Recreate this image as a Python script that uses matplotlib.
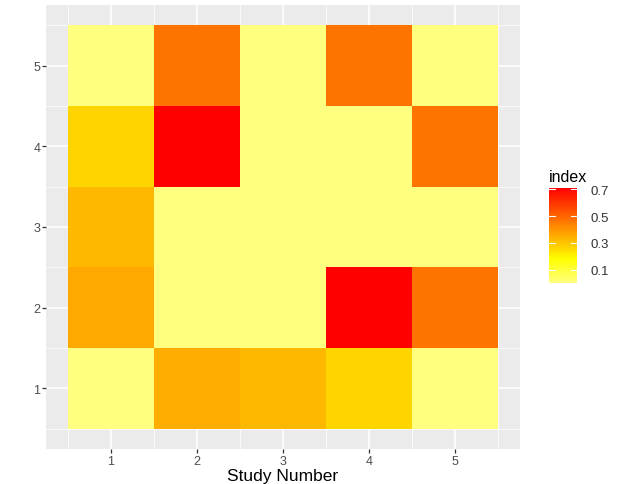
import numpy as np
import matplotlib
matplotlib.use('Agg')
import matplotlib.pyplot as plt
from matplotlib.colors import LinearSegmentedColormap

plt.rcParams['font.family'] = ['Liberation Sans', 'DejaVu Sans']

# データ
study = [1, 2, 3, 4, 5]
rows = [1, 2, 3, 4, 5]
row1 = [0.0, 0.348, 0.327, 0.266, 0.0]
row2 = [0.355, 0.0, 0.0, 0.71, 0.47]
row3 = [0.327, 0.0, 0.0, 0.0, 0.0]
row4 = [0.266, 0.71, 0.0, 0.0, 0.47]
row5 = [0.0, 0.47, 0.0, 0.47, 0.0]
index = np.array([row1, row2, row3, row4, row5])
cbar_ticks = [0.1, 0.3, 0.5, 0.7]

# rev(heat.colors) っぽいカラーマップ
cmap = LinearSegmentedColormap.from_list(
    'heat_rev', [(0.0, '#FFFF80'), (0.25, '#FFFF00'), (1.0, '#FF0000')])

W, H = 623, 485
fig = plt.figure(figsize=(W / 100, H / 100), dpi=100)
ax = fig.add_axes([46 / W, 1 - 450 / H, (520 - 46) / W, (450 - 6) / H])
ax.set_facecolor('#EBEBEB')

mesh = ax.pcolormesh(np.arange(0.5, 6, 1), np.arange(0.5, 6, 1), index,
                     cmap=cmap, vmin=index.min(), vmax=index.max(), zorder=2)

ax.set_xlim(0.25, 5.75)
ax.set_ylim(0.25, 5.75)
ax.set_xticks(study)
ax.set_yticks(rows)
ax.set_xticks(np.arange(0.5, 6, 1), minor=True)
ax.set_yticks(np.arange(0.5, 6, 1), minor=True)
ax.grid(True, which='major', color='white', linewidth=1.1, zorder=1)
ax.grid(True, which='minor', color='white', linewidth=0.55, zorder=1)
ax.set_axisbelow(True)
for s in ax.spines.values():
    s.set_visible(False)
ax.tick_params(which='major', length=3, width=0.9, color='#333333',
               labelcolor='#4D4D4D', labelsize=9, pad=1)
ax.tick_params(which='minor', length=0)
ax.set_xlabel('Study Number', fontsize=12.5, color='black', labelpad=1)

# カラーバー
cax = fig.add_axes([549 / W, 1 - 284 / H, 28 / W, 95 / H])
cb = fig.colorbar(mesh, cax=cax, ticks=cbar_ticks)
cb.outline.set_visible(False)
cb.ax.tick_params(length=0, labelsize=9.5, labelcolor='#333333', pad=10)
cb.ax.set_yticklabels([f'{t:.1f}' for t in cbar_ticks])
for t in cbar_ticks:
    cax.plot([0, 0.2], [t, t], color='white', lw=0.8, transform=cax.get_yaxis_transform())
    cax.plot([0.8, 1], [t, t], color='white', lw=0.8, transform=cax.get_yaxis_transform())
fig.text(549 / W, 1 - 177 / H, 'index', fontsize=11.5, va='center', ha='left')

plt.savefig('out.png', dpi=100)
plt.close()
